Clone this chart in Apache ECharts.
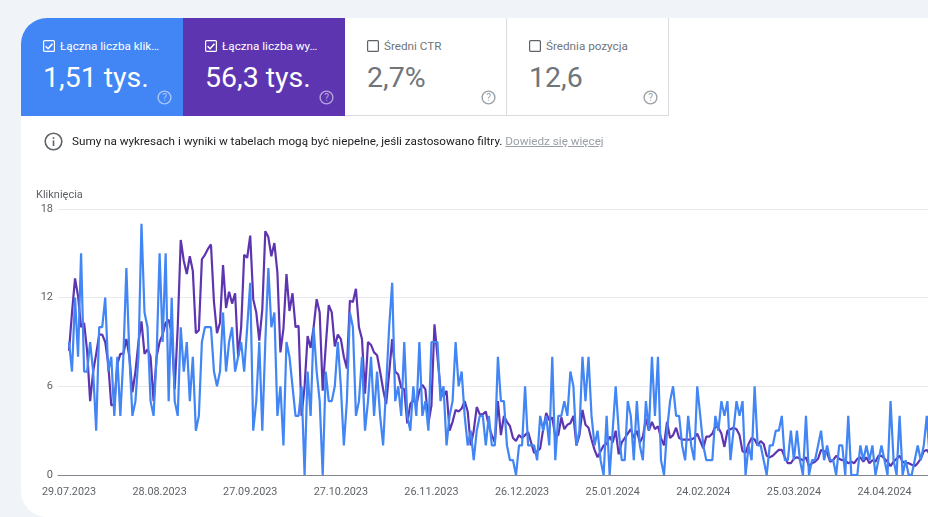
<!DOCTYPE html>
<html lang="pl">
<head>
<meta charset="utf-8">
<title>Skuteczność</title>
<script src="https://cdn.jsdelivr.net/npm/echarts@6/dist/echarts.min.js"></script>
<style>
  html, body { margin: 0; height: 100%; background: #f0f3f8; overflow: hidden; font-family: Roboto, sans-serif; }
  #card { position: absolute; left: 21px; top: 18px; width: 907px; height: 499px; background: #fff; border-radius: 26px 0 0 26px; }
  #chart { position: absolute; left: 0; top: 0; width: 928px; height: 517px; }
  .tile { position: absolute; top: 18px; height: 98px; width: 162px; box-sizing: border-box; color: #70757a; }
  .tile.outlined { background: #fff; border-right: 1px solid #dadce0; border-bottom: 1px solid #dadce0; }
  .tile .box { position: absolute; left: 22px; top: 22px; width: 12px; height: 12px; }
  .tile .label { position: absolute; left: 39px; top: 20px; font-size: 11.7px; line-height: 16px; white-space: nowrap; }
  .tile .value { position: absolute; left: 22px; top: 41px; font-size: 28.5px; line-height: 38px; white-space: nowrap; }
  .tile .help { position: absolute; left: 136px; top: 72px; width: 15px; height: 15px; }
  .tile.clicks { left: 21px; background: #4285f4; color: #fff; border-top-left-radius: 26px; }
  .tile.shows { left: 183px; background: #5e35b1; color: #fff; }
  .tile.ctr { left: 345px; width: 162px; }
  .tile.pos { left: 507px; }
  #notice { position: absolute; left: 72px; top: 133px; font-size: 11.7px; line-height: 16px; color: #202124; white-space: nowrap; }
  #notice a { color: #9aa0a6; text-decoration: underline; }
  #info { position: absolute; left: 44px; top: 132px; width: 19px; height: 19px; }
</style>
</head>
<body>
<div id="card"></div>
<div id="chart"></div>
<div id="tiles"></div>
<svg id="info" viewBox="0 0 19 19"><circle cx="9.5" cy="9.5" r="8.3" fill="none" stroke="#5f6368" stroke-width="1.6"/><rect x="8.7" y="8.4" width="1.6" height="5.6" fill="#5f6368"/><rect x="8.7" y="5.2" width="1.6" height="1.7" fill="#5f6368"/></svg>
<div id="notice">Sumy na wykresach i wyniki w tabelach mogą być niepełne, jeśli zastosowano filtry. <a>Dowiedz się więcej</a></div>
<script>
const tickLabels = ["29.07.2023", "28.08.2023", "27.09.2023", "27.10.2023", "26.11.2023", "26.12.2023", "25.01.2024", "24.02.2024", "25.03.2024", "24.04.2024"];
const tickDays = [0, 30, 60, 90, 120, 150, 180, 210, 240, 270];
const yTicks = [0, 6, 12, 18];

// kliknięcia (dziennie)
const clicks = [
  9, 7, 12, 8, 15, 7, 7, 9, 7, 3, 10, 10, 12, 7, 8, 4, 8, 4, 8, 14,
  8, 4, 5, 8, 17, 11, 10, 5, 4, 8, 15, 9, 15, 5, 12, 5, 4, 10, 7, 9,
  5, 8, 3, 4, 9, 10, 10, 10, 7, 6, 7, 11, 7, 9, 10, 7, 8, 9, 7, 10,
  13, 3, 5, 9, 3, 9, 14, 10, 11, 4, 6, 2, 9, 8, 6, 4, 4, 6, 0, 7,
  4, 10, 7, 5, 0, 7, 5, 5, 6, 9, 6, 2, 5, 11, 10, 4, 5, 8, 3, 5,
  8, 4, 7, 4, 2, 6, 10, 13, 5, 6, 4, 9, 4, 3, 6, 4, 9, 4, 5, 3,
  9, 9, 9, 5, 6, 2, 4, 5, 9, 6, 7, 4, 2, 3, 1, 3, 4, 4, 2, 4,
  2, 2, 8, 5, 5, 2, 1, 1, 0, 2, 2, 6, 2, 2, 2, 1, 4, 3, 4, 2,
  8, 1, 4, 4, 5, 4, 7, 6, 2, 3, 8, 5, 8, 4, 2, 3, 1, 0, 4, 0,
  3, 6, 3, 1, 1, 5, 4, 1, 5, 2, 1, 5, 3, 8, 4, 8, 1, 0, 3, 5,
  6, 4, 4, 2, 1, 4, 2, 1, 6, 4, 2, 1, 1, 1, 4, 3, 5, 4, 5, 1,
  3, 5, 4, 5, 0, 2, 1, 6, 2, 2, 1, 0, 2, 2, 3, 3, 4, 1, 1, 3,
  1, 3, 1, 0, 4, 0, 1, 1, 2, 3, 1, 2, 1, 1, 0, 2, 2, 0, 4, 0,
  0, 0, 2, 1, 2, 1, 2, 0, 1, 2, 1, 0, 5, 1, 0, 4, 0, 1, 0, 0,
  1, 2, 1, 2, 4, 1
];

// wyświetlenia przeliczone na skalę osi kliknięć
const impressions = [
  8.4, 11, 13.3, 12.1, 10, 10.3, 8.4, 5, 7, 8.2, 9.5, 9.5, 9, 7.5, 4.7, 4.8, 7.5, 8.2, 8.2, 9.2,
  8, 5.6, 7, 9, 10.4, 8.2, 8.5, 8, 5, 8, 9, 9.5, 10.3, 10.5, 9.6, 5.8, 10, 15.9, 14.5, 13.6,
  14.8, 13.8, 9.6, 9.8, 14.6, 14.9, 15.3, 15.6, 11.7, 9.6, 10.3, 14.2, 11.3, 12.4, 11.6, 12.3, 8, 10, 14.9, 14.7,
  16.2, 11.9, 11, 9.1, 11.2, 16.5, 16.1, 14.8, 15.7, 13.7, 8.3, 9.9, 13.6, 11.1, 12.3, 10, 10.1, 4, 6, 9.4,
  8.6, 10, 11.9, 11, 5.7, 8.7, 11.5, 11, 8.7, 9.5, 9.2, 8, 7.2, 11.8, 11.7, 12.6, 10, 9.2, 5.5, 9,
  8.8, 8.3, 8.1, 7, 5.8, 4.8, 6.9, 9.2, 7, 6.8, 5.9, 5.8, 3.5, 4.8, 5.1, 4.7, 5.7, 6.1, 5.8, 3.5,
  4.7, 10.2, 8, 5.8, 5.3, 5.7, 3, 3.6, 4.4, 4.3, 4.5, 5, 4.3, 2, 3, 4.6, 4.1, 4.1, 4.3, 3.3,
  2.7, 2.2, 5, 2.7, 4, 3.6, 3.3, 2.5, 2.3, 2.7, 2.5, 2.7, 2.9, 2.2, 1.5, 1.6, 1.8, 3.1, 4.2, 3.7,
  3.9, 2.6, 2.7, 3.9, 3.1, 3.4, 3.5, 4, 2, 2.7, 4.4, 3.4, 3.2, 2.4, 1.7, 1.2, 1.6, 2, 2.1, 2.6,
  2.2, 3, 1.4, 2.2, 2.5, 2.8, 3.1, 2.5, 3, 2.2, 2.6, 3.8, 3, 3.6, 3.1, 3.3, 2.5, 2, 3.6, 2.5,
  2.7, 3.2, 2.5, 2.4, 2.4, 2.4, 2.4, 2.5, 2.8, 2.3, 1.8, 2.6, 2.6, 2.8, 3.3, 3.2, 2.8, 1.9, 3, 3.1,
  3.2, 3.1, 2.7, 1.6, 1.5, 2.1, 2.5, 2.4, 2, 2.3, 2.1, 1.3, 1.2, 1.3, 1.5, 1.7, 1.7, 1.2, 0.8, 0.8,
  1.1, 1.2, 1.1, 1, 1.2, 0.6, 0.8, 0.9, 1.1, 1.7, 1.6, 1.5, 0.9, 1, 1.3, 1.1, 1, 1, 0.8, 0.9,
  0.8, 1.1, 1.2, 0.9, 1.2, 0.8, 1, 0.9, 1.3, 1.3, 1.1, 0.9, 0.6, 0.9, 1.1, 1.3, 0.9, 0.8, 0.8, 0.7,
  0.6, 0.8, 1.1, 1.6, 1.7, 1.4
];

const tiles = [
  { cls: "clicks", label: "Łączna liczba klik…", value: "1,51 tys.", checked: true },
  { cls: "shows", label: "Łączna liczba wy…", value: "56,3 tys.", checked: true },
  { cls: "ctr outlined", label: "Średni CTR", value: "2,7%", checked: false },
  { cls: "pos outlined", label: "Średnia pozycja", value: "12,6", checked: false },
];

tiles.forEach(function (t) {
  const c = t.checked ? "#fff" : "#5f6368";
  const mark = t.checked ? '<path d="M2.6 6.2l2.5 2.5 4.4-5" fill="none" stroke="' + c + '" stroke-width="1.5"/>' : "";
  const box = '<svg class="box" viewBox="0 0 12 12"><rect x=".6" y=".6" width="10.8" height="10.8" rx="1" fill="none" stroke="' + c + '" stroke-width="1.2"/>' + mark + "</svg>";
  const helpColor = t.checked ? "rgba(255,255,255,.55)" : "#9aa0a6";
  const help = '<svg class="help" viewBox="0 0 15 15"><circle cx="7.5" cy="7.5" r="6.4" fill="none" stroke="' + helpColor + '" stroke-width="1.4"/><text x="7.5" y="11" font-size="10" text-anchor="middle" fill="' + helpColor + '">?</text></svg>';
  document.getElementById("tiles").insertAdjacentHTML("beforeend",
    '<div class="tile ' + t.cls + '">' + box + '<div class="label">' + t.label + '</div><div class="value">' + t.value + "</div>" + help + "</div>");
});

const chart = echarts.init(document.getElementById("chart"));
const option = {
  animation: false,
  grid: { left: 58, right: 0, top: 209, bottom: 42 },
  xAxis: {
    type: "value",
    min: -3.64,
    max: 284.4,
    axisLine: { lineStyle: { color: "#80868b", width: 1 } },
    axisTick: { show: false },
    splitLine: { show: false },
    axisLabel: {
      customValues: tickDays,
      formatter: function (v) { return tickLabels[tickDays.indexOf(v)] || ""; },
      color: "#5f6368",
      fontFamily: "Roboto",
      fontSize: 10.8,
      margin: 12,
    },
  },
  yAxis: {
    type: "value",
    min: yTicks[0],
    max: yTicks[yTicks.length - 1],
    interval: 6,
    name: "Kliknięcia",
    nameGap: 8,
    nameTextStyle: { color: "#5f6368", fontFamily: "Roboto", fontSize: 11, align: "left", padding: [0, 0, 0, -33] },
    axisLine: { show: false },
    axisTick: { show: false },
    axisLabel: { color: "#5f6368", fontFamily: "Roboto", fontSize: 11, margin: 5 },
    splitLine: { lineStyle: { color: "#e8eaed", width: 1 } },
  },
  series: [
    {
      name: "Wyświetlenia",
      type: "line",
      showSymbol: false,
      data: impressions.map(function (v, i) { return [i, v]; }),
      lineStyle: { color: "#5e35b1", width: 2.2 },
      itemStyle: { color: "#5e35b1" },
    },
    {
      name: "Kliknięcia",
      type: "line",
      showSymbol: false,
      data: clicks.map(function (v, i) { return [i, v]; }),
      lineStyle: { color: "#4285f4", width: 2.2 },
      itemStyle: { color: "#4285f4" },
    },
  ],
};
chart.setOption(option);

window.addEventListener("resize", function () {
  chart.resize();
});
</script>
</body>
</html>
